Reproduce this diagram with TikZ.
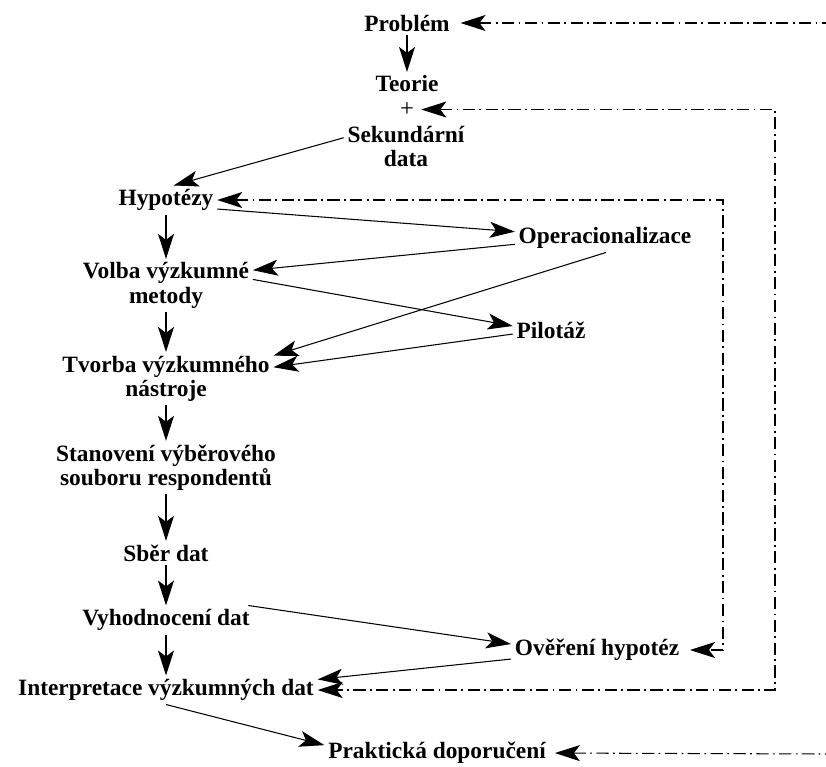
\documentclass[tikz,border=0pt]{standalone}
\usepackage{fontspec}
\setmainfont{Liberation Serif}
\usetikzlibrary{arrows.meta}

\begin{document}
\begin{tikzpicture}[>={Stealth[length=5mm,width=3.2mm,inset=1.2mm]},
 font=\bfseries\fontsize{13.3}{13.8}\selectfont,
 stage/.style={align=center,inner sep=2pt},
 flow/.style={->,line width=0.6pt},
 feedback/.style={line width=0.6pt,dash pattern=on 7pt off 2.5pt on 1pt off 2.5pt}]
\useasboundingbox (0,0) rectangle (16.52,-15.32);
% main column
\node[stage] (prob) at (8.14,-0.46) {Problém};
\node[stage] (teor) at (8.14,-1.68) {Teorie};
\node[stage,inner sep=0pt,font=\mdseries\fontsize{14}{14}\selectfont] (plus) at (8.14,-2.19) {+};
\node[stage] (sek) at (8.12,-2.93) {Sekundární\\data};
\node[stage] (hyp) at (3.32,-4.0) {Hypotézy};
\node[stage] (volba) at (3.32,-5.71) {Volba výzkumné\\metody};
\node[stage] (tvorba) at (3.32,-7.57) {Tvorba výzkumného\\nástroje};
\node[stage] (vyber) at (3.32,-9.35) {Stanovení výběrového\\souboru respondentů};
\node[stage] (sber) at (3.32,-11.06) {Sběr dat};
\node[stage] (vyhod) at (3.32,-12.4) {Vyhodnocení dat};
\node[stage] (interp) at (3.32,-13.8) {Interpretace výzkumných dat};
\node[stage] (prakt) at (8.74,-15.06) {Praktická doporučení};
% side steps
\node[stage] (oper) at (12.1,-4.76) {Operacionalizace};
\node[stage] (pilot) at (11.02,-6.6) {Pilotáž};
\node[stage] (over) at (11.94,-13.0) {Ověření hypotéz};
\coordinate (edgeT) at (16.52,-0.46);
\coordinate (edgeB) at (16.52,-15.08);
\coordinate (loopA) at (14.46,-8);
\coordinate (loopB) at (15.5,-8);
\draw[flow] (prob)--(teor);
\draw[flow] (sek.172)--(hyp.62);
\draw[flow] (hyp)--(volba);
\draw[flow] (volba)--(tvorba);
\draw[flow] (tvorba)--(vyber);
\draw[flow] (vyber)--(sber);
\draw[flow] (sber)--(vyhod);
\draw[flow] (vyhod)--(interp);
\draw[flow] (hyp.-10)--(oper.176);
\draw[flow] (oper.184)--(volba.10);
\draw[flow] (volba.4)--(pilot.174);
\draw[flow] (oper.-86)--(tvorba.12);
\draw[flow] (pilot.186)--(tvorba.6);
\draw[flow] (vyhod.10)--(over.176);
\draw[flow] (over.186)--(interp.4);
\draw[flow] (interp.south)--(prakt.176);
% feedback loops
\draw[feedback,<-,shorten <=4pt] (prob.east)--(edgeT);
\draw[feedback,<->,shorten <=4pt] (plus.east)-|(loopB)|-(interp.east);
\draw[feedback,<->] (hyp.east)-|(loopA)|-([xshift=4pt]over.east);
\draw[feedback,<-,shorten <=3pt] (prakt.east)--(edgeB);
\end{tikzpicture}
\end{document}
